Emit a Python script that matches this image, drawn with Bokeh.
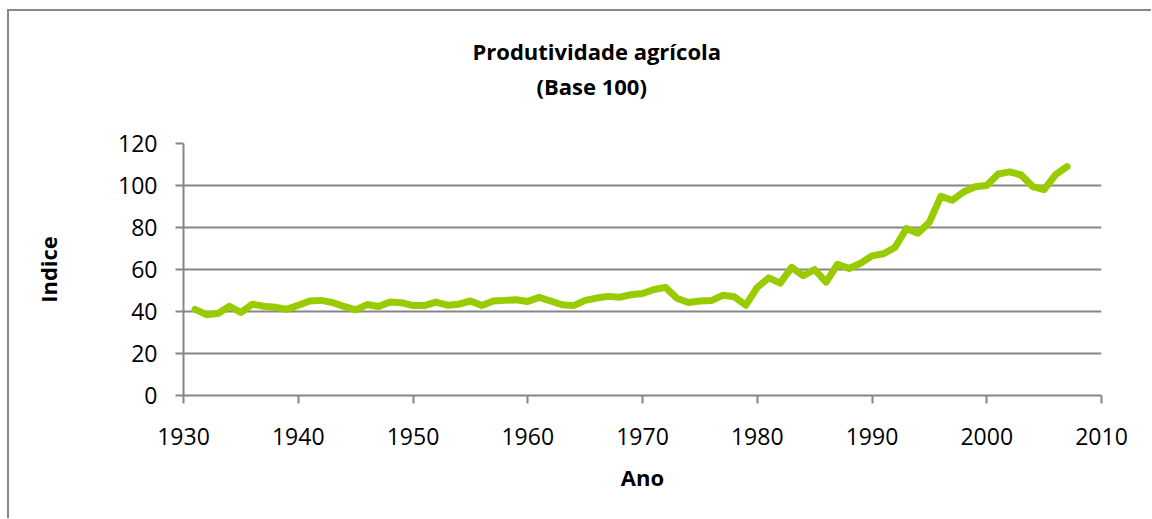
from bokeh.plotting import figure
from bokeh.models import Range1d, SingleIntervalTicker, Title
from bokeh.embed import file_html
from bokeh.resources import INLINE

years = list(range(1931, 2008))
indice = [41, 38.5, 39, 42.5, 39.5, 43.5, 42.5, 42, 41, 43,
          45, 45.3, 44.2, 42.4, 40.8, 43.3, 42.4, 44.5, 44.2, 42.8,
          42.8, 44.5, 43, 43.5, 45, 42.8, 45, 45.3, 45.6, 44.8,
          46.7, 45, 43.2, 42.8, 45.3, 46.4, 47.2, 46.8, 48, 48.6,
          50.5, 51.5, 46.3, 44.3, 45, 45.2, 47.7, 47, 43, 51.5,
          56, 53.5, 61, 57, 60, 54, 62.5, 60.5, 63, 66.5,
          67.5, 70.5, 79.5, 77.3, 82.5, 94.8, 93, 97, 99.4, 100,
          105.5, 106.5, 105, 99.5, 98, 105.2, 109]

title_lines = ["Produtividade agrícola", "(Base 100)"]
x_label = "Ano"
y_label = "Indice"

GRAY = "#868686"
FONT = "Open Sans"

p = figure(width=1142, height=507, output_backend="svg", toolbar_location=None,
           x_range=Range1d(1930, 2010), y_range=Range1d(0, 120),
           frame_width=918, frame_height=252,
           min_border_left=174, min_border_top=132, min_border_right=50,
           min_border_bottom=123,
           styles={"margin-left": "7px", "margin-top": "9px",
                   "border-top": "2px solid #878787", "border-left": "2px solid #878787"})

p.title.visible = False
title_style = dict(vertical_align="top", text_font=FONT, text_font_size="22px",
                   text_font_style="bold", text_color="black")
# blank spacer between the frame and the two title lines
spacer = Title(text=" ", standoff=9, **title_style)
t2 = Title(text=title_lines[1], align="left", offset=353, standoff=0, **title_style)
t1 = Title(text=title_lines[0], align="left", offset=289, standoff=6, **title_style)
p.add_layout(spacer, "above")
p.add_layout(t2, "above")
p.add_layout(t1, "above")

p.outline_line_color = None
p.background_fill_color = "white"
p.border_fill_color = "white"

p.xgrid.visible = False
p.ygrid.grid_line_color = GRAY
p.ygrid.grid_line_width = 2

p.xaxis.ticker = SingleIntervalTicker(interval=10, num_minor_ticks=0)
p.yaxis.ticker = SingleIntervalTicker(interval=20, num_minor_ticks=0)
for ax in (p.xaxis, p.yaxis):
    ax.axis_line_color = GRAY
    ax.axis_line_width = 2
    ax.major_tick_line_color = GRAY
    ax.major_tick_line_width = 2
    ax.major_tick_out = 8
    ax.major_tick_in = 0
    ax.minor_tick_line_color = None
    ax.major_label_text_font = FONT
    ax.major_label_text_font_size = "23px"
    ax.major_label_text_color = "black"
    ax.axis_label_text_font = FONT
    ax.axis_label_text_font_size = "22px"
    ax.axis_label_text_font_style = "bold"
    ax.axis_label_text_color = "black"

p.xaxis.axis_label = x_label
p.yaxis.axis_label = y_label
p.xaxis.major_label_standoff = 24
p.yaxis.major_label_standoff = 18
p.xaxis.axis_label_standoff = 14
p.yaxis.axis_label_standoff = 52

p.line(years, indice, line_color="#99CC00", line_width=7, line_join="round", line_cap="round")

open("out.html", "w").write(file_html(p, INLINE))
